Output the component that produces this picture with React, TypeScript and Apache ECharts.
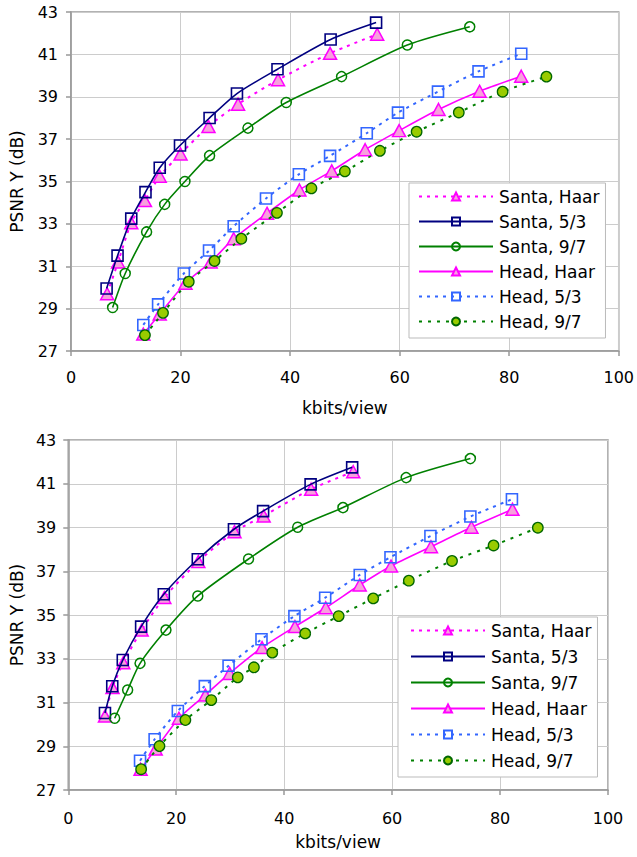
import React, { useEffect, useRef } from "react";
import * as echarts from "echarts";

const seriesNames = ["Santa, Haar", "Santa, 5/3", "Santa, 9/7", "Head, Haar", "Head, 5/3", "Head, 9/7"];
const xTicks = { min: 0, max: 100, interval: 20 };
const yTicks = { min: 27, max: 43, interval: 2 };
const xTitle = "kbits/view";
const yTitle = "PSNR Y (dB)";

// Top panel
const topSantaHaar = [[6.6, 29.7], [8.6, 31.2], [11.0, 33.05], [13.5, 34.1], [16.2, 35.25], [20.0, 36.3], [25.1, 37.6], [30.5, 38.65], [37.8, 39.8], [47.3, 41.05], [55.9, 41.95]];
const topSanta53 = [[6.5, 29.95], [8.5, 31.5], [11.0, 33.25], [13.6, 34.5], [16.2, 35.65], [19.9, 36.7], [25.3, 38.0], [30.3, 39.15], [37.7, 40.3], [47.4, 41.7], [55.7, 42.5]];
const topSanta97 = [[7.6, 29.05], [9.9, 30.66], [13.8, 32.62], [17.1, 33.92], [20.8, 35.0], [25.3, 36.22], [32.3, 37.52], [39.3, 38.73], [49.4, 39.95], [61.4, 41.44], [72.8, 42.3]];
const topHeadHaar = [[13.2, 27.8], [16.2, 28.75], [20.9, 30.2], [25.5, 31.2], [29.7, 32.3], [35.8, 33.5], [41.7, 34.6], [47.6, 35.5], [53.7, 36.5], [59.9, 37.4], [67.1, 38.4], [74.6, 39.26], [82.2, 39.97]];
const topHead53 = [[13.2, 28.23], [15.9, 29.2], [20.6, 30.66], [25.2, 31.74], [29.7, 32.89], [35.6, 34.2], [41.6, 35.34], [47.3, 36.21], [54.0, 37.28], [59.7, 38.25], [67.0, 39.24], [74.4, 40.2], [82.2, 41.03]];
const topHead97 = [[13.5, 27.75], [16.8, 28.8], [21.5, 30.27], [26.2, 31.25], [31.1, 32.3], [37.6, 33.52], [43.9, 34.68], [50.0, 35.48], [56.4, 36.45], [63.1, 37.35], [70.8, 38.26], [78.8, 39.24], [86.8, 39.95]];

// Bottom panel
const botSantaHaar = [[6.8, 30.38], [8.2, 31.68], [10.2, 32.82], [13.6, 34.31], [17.8, 35.8], [24.1, 37.44], [30.8, 38.81], [36.2, 39.53], [45.0, 40.75], [52.8, 41.55]];
const botSanta53 = [[6.8, 30.52], [8.15, 31.74], [10.1, 32.94], [13.5, 34.47], [17.7, 35.95], [24.0, 37.55], [30.7, 38.92], [36.1, 39.75], [44.9, 40.97], [52.6, 41.75]];
const botSanta97 = [[8.6, 30.28], [11.0, 31.57], [13.3, 32.79], [18.1, 34.31], [24.0, 35.87], [33.4, 37.56], [42.5, 39.01], [50.9, 39.91], [62.6, 41.28], [74.5, 42.15]];
const botHeadHaar = [[13.4, 27.95], [16.2, 28.87], [20.5, 30.28], [25.4, 31.34], [29.9, 32.33], [35.9, 33.51], [42.0, 34.47], [47.7, 35.33], [54.0, 36.37], [59.8, 37.24], [67.2, 38.12], [74.7, 39.01], [82.3, 39.83]];
const botHead53 = [[13.3, 28.34], [16.0, 29.32], [20.3, 30.61], [25.3, 31.75], [29.7, 32.68], [35.8, 33.89], [41.9, 34.95], [47.6, 35.79], [54.0, 36.83], [59.7, 37.64], [67.1, 38.61], [74.5, 39.5], [82.2, 40.29]];
const botHead97 = [[13.5, 27.95], [16.9, 29.01], [21.7, 30.2], [26.5, 31.11], [31.4, 32.15], [34.4, 32.61], [37.8, 33.28], [43.9, 34.16], [50.1, 34.95], [56.5, 35.76], [63.1, 36.57], [71.1, 37.47], [78.8, 38.18], [87.0, 38.99]];

const FONT = "DejaVu Sans";

const styles: any[] = [
  { line: { color: "#FF00FF", width: 2, type: [3, 5] }, symbol: "triangle", size: [13, 12], item: { color: "#F7A1DC", borderColor: "#FF00FF", borderWidth: 1.5 } },
  { line: { color: "#000080", width: 1.6, type: "solid" }, symbol: "rect", size: 11, item: { color: "rgba(255,255,255,0)", borderColor: "#000080", borderWidth: 1.6 } },
  { line: { color: "#008000", width: 1.6, type: "solid" }, symbol: "circle", size: 10, item: { color: "rgba(255,255,255,0)", borderColor: "#008000", borderWidth: 1.5 } },
  { line: { color: "#FF00FF", width: 1.6, type: "solid" }, symbol: "triangle", size: [13, 12], item: { color: "#F7A1DC", borderColor: "#FF00FF", borderWidth: 1.5 } },
  { line: { color: "#3366FF", width: 2, type: [3, 5] }, symbol: "rect", size: 11, item: { color: "rgba(255,255,255,0)", borderColor: "#3366FF", borderWidth: 1.6 } },
  { line: { color: "#008000", width: 2, type: [3, 6] }, symbol: "circle", size: 10.5, item: { color: "#99CC00", borderColor: "#006600", borderWidth: 1.3 } },
];

function makeSeries(data: number[][][], axisIndex: number) {
  return data.map((d, i) => ({
    type: "line",
    name: seriesNames[i],
    xAxisIndex: axisIndex,
    yAxisIndex: axisIndex,
    data: d,
    smooth: 0.25,
    symbol: styles[i].symbol,
    symbolSize: styles[i].size,
    showAllSymbol: true,
    lineStyle: styles[i].line,
    itemStyle: styles[i].item,
    z: 2 + i,
    clip: false,
  }));
}

function xAxisCfg(gridIndex: number, nameGap: number, margin: number) {
  return {
    type: "value",
    gridIndex,
    ...xTicks,
    name: xTitle,
    nameLocation: "middle",
    nameGap,
    nameTextStyle: { fontFamily: FONT, fontSize: 17, color: "#000" },
    axisLine: { show: true, onZero: false, lineStyle: { color: "#999", width: 1.5 } },
    axisTick: { show: true, length: 5, inside: false, lineStyle: { color: "#999", width: 1.5 } },
    axisLabel: { fontFamily: FONT, fontSize: 16, color: "#000", margin },
    splitLine: { show: true, lineStyle: { color: "#CCCCCC", width: 1 } },
  };
}

function yAxisCfg(gridIndex: number, nameGap: number, margin: number) {
  return {
    type: "value",
    gridIndex,
    ...yTicks,
    name: yTitle,
    nameLocation: "middle",
    nameGap,
    nameTextStyle: { fontFamily: FONT, fontSize: 17, color: "#000" },
    axisLine: { show: true, onZero: false, lineStyle: { color: "#999", width: 1.5 } },
    axisTick: { show: true, length: 5, inside: false, lineStyle: { color: "#999", width: 1.5 } },
    axisLabel: { fontFamily: FONT, fontSize: 16, color: "#000", margin },
    splitLine: { show: true, lineStyle: { color: "#CCCCCC", width: 1 } },
  };
}

function legendCfg(left: number, top: number, padding: number[], itemGap: number) {
  return {
    show: true,
    data: seriesNames,
    orient: "vertical",
    left,
    top,
    padding,
    itemGap,
    itemWidth: 74,
    itemHeight: 10,
    backgroundColor: "#FFFFFF",
    borderColor: "#BBBBBB",
    borderWidth: 1,
    borderRadius: 0,
    selectedMode: false,
    textStyle: { fontFamily: FONT, fontSize: 17, color: "#000", padding: [0, 0, 0, 1] },
  };
}

export default function App() {
  const ref = useRef<HTMLDivElement>(null);
  useEffect(() => {
    document.body.style.margin = "0";
    const chart = echarts.init(ref.current!, null, { renderer: "svg" });
    chart.setOption({
      animation: false,
      backgroundColor: "#FFFFFF",
      grid: [
        { left: 71, top: 12, width: 550, height: 339, show: true, borderColor: "#999", borderWidth: 1.5, backgroundColor: "transparent", containLabel: false },
        { left: 68, top: 440, width: 540, height: 350, show: true, borderColor: "#999", borderWidth: 1.5, backgroundColor: "transparent", containLabel: false },
      ],
      xAxis: [xAxisCfg(0, 48, 18), xAxisCfg(1, 43, 20)],
      yAxis: [yAxisCfg(0, 46, 13), yAxisCfg(1, 43, 12)],
      legend: [legendCfg(409, 183, [5, 6, 8, 9], 8), legendCfg(398, 617, [5, 6, 8, 12], 9)],
      series: [
        ...makeSeries([topSantaHaar, topSanta53, topSanta97, topHeadHaar, topHead53, topHead97], 0),
        ...makeSeries([botSantaHaar, botSanta53, botSanta97, botHeadHaar, botHead53, botHead97], 1),
      ],
    });
    return () => chart.dispose();
  }, []);
  return <div ref={ref} style={{ position: "absolute", left: 0, top: 0, width: 637, height: 857 }} />;
}
